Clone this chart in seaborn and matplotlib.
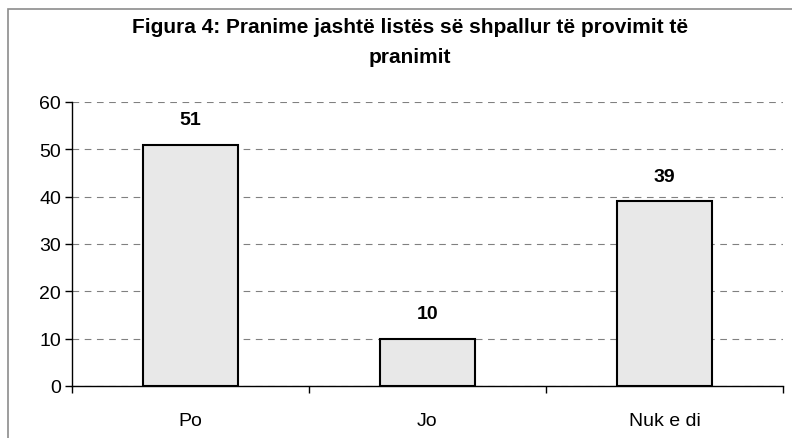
import matplotlib
matplotlib.use('Agg')
import matplotlib.pyplot as plt
import seaborn as sns
import pandas as pd
from matplotlib.patches import Rectangle

# data
categories = ['Po', 'Jo', 'Nuk e di']
values = [51, 10, 39]
title = 'Figura 4: Pranime jashtë listës së shpallur të provimit të\npranimit'

sns.set_style('white')
plt.rcParams['font.family'] = ['Liberation Sans', 'DejaVu Sans']
plt.rcParams['text.color'] = 'black'
plt.rcParams['xtick.color'] = 'black'
plt.rcParams['ytick.color'] = 'black'

df = pd.DataFrame({'cat': categories, 'val': values})

fig = plt.figure(figsize=(7.92, 4.39), dpi=100)
ax = fig.add_axes([0.0909, 0.1185, 0.8977, 0.6469])

sns.barplot(data=df, x='cat', y='val', color='#e8e8e8', edgecolor='black',
            linewidth=1.5, width=0.4, saturation=1, ax=ax, zorder=3)

ax.set_ylim(0, 60)
ax.set_xlim(-0.5, len(categories) - 0.5)
ax.set_yticks(range(0, 61, 10))
ax.yaxis.grid(True, linestyle=(0, (6, 5)), color='#808080', linewidth=0.8, zorder=0)
ax.set_axisbelow(True)

for s in ['top', 'right']:
    ax.spines[s].set_visible(False)
for s in ['left', 'bottom']:
    ax.spines[s].set_color('black')
    ax.spines[s].set_linewidth(1.0)

ax.set_xlabel('')
ax.set_ylabel('')
ax.tick_params(axis='y', left=True, length=5, width=1, pad=3, labelsize=14,
               labelcolor='black')
ax.tick_params(axis='x', which='major', bottom=False, length=0, pad=19, labelsize=14,
               labelcolor='black')
ax.set_xticks([i - 0.5 for i in range(len(categories) + 1)], minor=True)
ax.tick_params(axis='x', which='minor', bottom=True, length=5, width=1)

for i, v in enumerate(values):
    ax.annotate(str(v), (i, v), xytext=(0, 12), textcoords='offset points',
                ha='center', va='bottom', fontsize=14, fontweight='bold', color='black')

fig.text(0.518, 0.903, title, ha='center', va='center', fontsize=15,
         fontweight='bold', linespacing=1.75, color='black')

fig.patches.append(Rectangle((8 / 792, -0.05), 1.2, 1 - 10 / 439 + 0.05,
                             transform=fig.transFigure, fill=False,
                             edgecolor='#8c8c8c', linewidth=1.2))

fig.savefig('out.png', dpi=100)
